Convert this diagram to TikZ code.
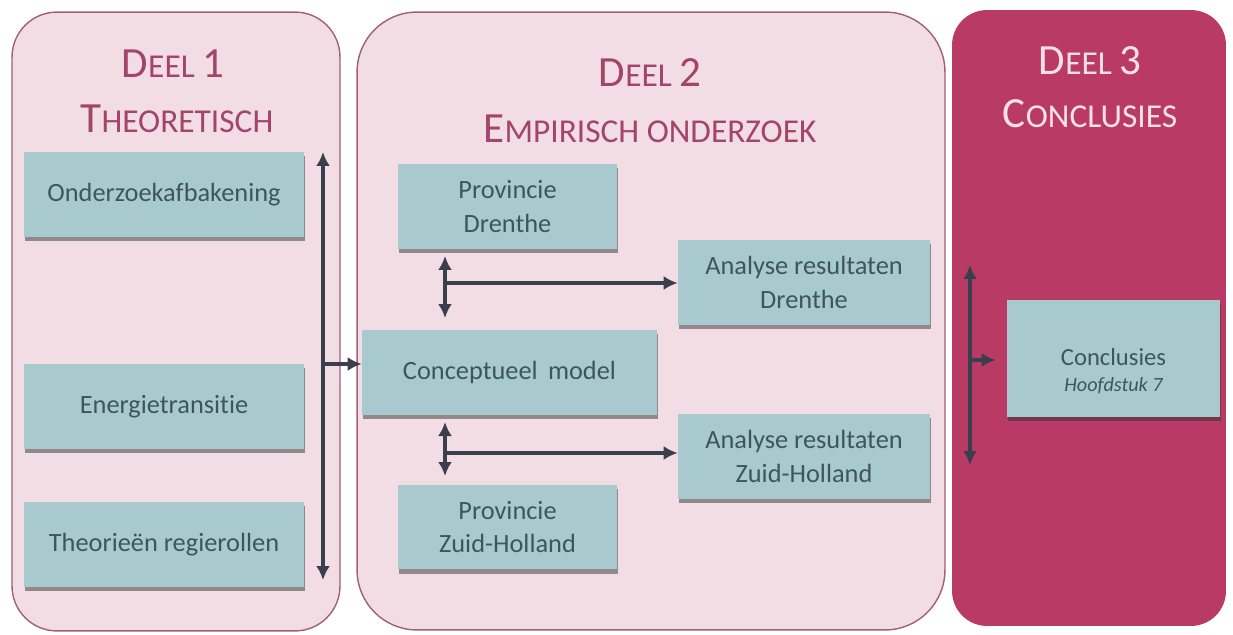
\documentclass[tikz,border=0pt]{standalone}
\usepackage{fontspec}
\setmainfont[Ligatures=NoCommon]{Carlito}
\usetikzlibrary{positioning,arrows.meta,shadows}
\definecolor{panelcol}{HTML}{F2DDE4}
\definecolor{panelline}{HTML}{A0607A}
\definecolor{concol}{HTML}{B93B65}
\definecolor{contitle}{HTML}{F7E1E8}
\definecolor{titlecol}{HTML}{A3456A}
\definecolor{boxcol}{HTML}{A8CACE}
\definecolor{boxtext}{HTML}{3F545D}
\definecolor{arrowcol}{HTML}{3B3E4D}

\newcommand\capbig[1]{{\fontsize{24.5}{28}\selectfont #1}}
\newcommand\capsmall[1]{{\fontsize{19}{22}\selectfont #1}}

\begin{document}
\begin{tikzpicture}[
  x=0.02cm, y=-0.02cm,
  panel/.style={draw=panelline, fill=panelcol, line width=0.8pt},
  title/.style={text=titlecol, font=\fontsize{19}{22}\selectfont, inner sep=0pt},
  topic/.style={
    fill=boxcol, text=boxtext, align=center, minimum width=#1, minimum height=1.7cm,
    font=\fontsize{15}{19}\selectfont, inner sep=2pt,
    drop shadow={shadow xshift=0.6pt, shadow yshift=-2.4pt, fill=black!80, opacity=0.5},
  },
  dbl/.style={{Latex[length=2.8mm,width=2.8mm]}-{Latex[length=2.8mm,width=2.8mm]}, line width=2.2pt, draw=arrowcol},
  arrow/.style={-{Latex[length=2.8mm,width=2.8mm]}, line width=2.2pt, draw=arrowcol},
]
\useasboundingbox (0,0) rectangle (1233,635);

% ============================================================
% PANELS
% ============================================================
\node[panel, rounded corners=0.9cm, minimum width=6.56cm, minimum height=12.38cm] (deel1) at (176,321.5) {};
\node[panel, rounded corners=1.2cm, minimum width=11.76cm, minimum height=12.36cm] (deel2) at (651,321) {};
\node[fill=concol, rounded corners=0.7cm, minimum width=5.48cm, minimum height=12.32cm] (deel3) at (1089,318) {};

% Titles
\node[title] (t1a) at (173,64) {\capbig{D}\capsmall{EEL} \capbig{1}};
\node[title] (t1b) at (177,119) {\capbig{T}\capsmall{HEORETISCH}};
\node[title] (t2a) at (650,73) {\capbig{D}\capsmall{EEL} \capbig{2}};
\node[title] (t2b) at (650,129) {\capbig{E}\capsmall{MPIRISCH ONDERZOEK}};
\node[title, text=contitle] (t3a) at (1090,61) {\capbig{D}\capsmall{EEL} \capbig{3}};
\node[title, text=contitle] (t3b) at (1090,114) {\capbig{C}\capsmall{ONCLUSIES}};

% ============================================================
% DEEL 1: theorie
% ============================================================
\node[topic=5.6cm] (afbakening) at (164,194.5) {Onderzoekafbakening};
\node[topic=5.6cm] (energie) at (164,406.5) {Energietransitie};
\node[topic=5.6cm] (regie) at (164,544.5) {Theorieën regierollen};

\coordinate (lbtop) at (323,152);
\coordinate (lbbot) at (323,580);
\coordinate (lbmid) at (323,364);

% ============================================================
% DEEL 2: empirisch onderzoek
% ============================================================
\node[topic=4.38cm] (drenthe) at (507.5,206.5) {Provincie\\Drenthe};
\node[topic=5.9cm] (concept) at (509.5,372.5) {Conceptueel\, model};
\node[topic=4.38cm] (zholland) at (507.5,527) {Provincie\\Zuid-Holland};
\node[topic=5.04cm] (anadrenthe) at (804,282.5) {Analyse resultaten\\Drenthe};
\node[topic=5.04cm] (anazholland) at (804,456.5) {Analyse resultaten\\Zuid-Holland};

\draw[dbl] (lbtop) -- (lbbot);
\draw[arrow] (lbmid) -- (lbmid -| concept.west);

\coordinate (uptop) at (445,256);
\coordinate (upbot) at (445,318);
\coordinate (upmid) at (445,283);
\draw[dbl] (uptop) -- (upbot);
\draw[arrow] (upmid) -- (upmid -| anadrenthe.west);

\coordinate (lotop) at (445,422);
\coordinate (lobot) at (445,476);
\coordinate (lomid) at (445,453);
\draw[dbl] (lotop) -- (lobot);
\draw[arrow] (lomid) -- (lomid -| anazholland.west);

% ============================================================
% DEEL 3: conclusies
% ============================================================
\node[topic=4.26cm, minimum height=2.34cm, font=\fontsize{14}{17}\selectfont] (conclusies) at (1113.5,358.5)
  {\rule{0pt}{24pt}Conclusies\\[-2pt]{\fontsize{11.5}{14}\selectfont\itshape Hoofdstuk 7}};

\coordinate (rtop) at (970,265);
\coordinate (rbot) at (970,465);
\coordinate (rmid) at (970,360);
\draw[dbl] (rtop) -- (rbot);
\draw[arrow, shorten >=0.22cm] (rmid) -- (rmid -| conclusies.west);

\end{tikzpicture}
\end{document}
